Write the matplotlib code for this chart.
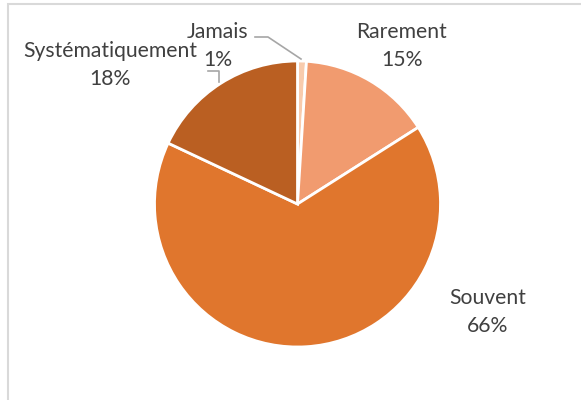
import matplotlib.pyplot as plt
from matplotlib.patches import Rectangle

categories = ["Jamais", "Rarement", "Souvent", "Systématiquement"]
values = [1, 15, 66, 18]
colors = ["#F8CBAD", "#F19B6F", "#E0762D", "#BA5F22"]

# label centres in pixel coords (y measured from top)
label_pos = [(218, 46), (402, 46), (488, 312), (110, 65)]

W, H = 581, 400
fig = plt.figure(figsize=(W / 100, H / 100), dpi=100)
ax = fig.add_axes([0, 0, 1, 1])

ax.pie(values, colors=colors, startangle=90, counterclock=False,
       center=(297.5, H - 204), radius=143,
       wedgeprops=dict(edgecolor="white", linewidth=2))

ax.set_xlim(0, W)
ax.set_ylim(0, H)
ax.set_aspect("equal")
ax.axis("off")

for name, v, (x, y) in zip(categories, values, label_pos):
    ax.text(x, H - y, f"{name}\n{v}%", ha="center", va="center",
            fontsize=15.2, color="#404040", family="Lato", linespacing=1.45)

# leader lines
ax.plot([255, 268, 301], [H - 37, H - 37, H - 59], color="#A6A6A6", lw=1.2)
ax.plot([208, 219, 219], [H - 71, H - 71, H - 82], color="#A6A6A6", lw=1.2)

# chart frame (partly cropped)
ax.add_patch(Rectangle((8, -10), W, H - 4 + 10, fill=False,
                       edgecolor="#D9D9D9", lw=1.5))

fig.savefig("out.png", dpi=100)
